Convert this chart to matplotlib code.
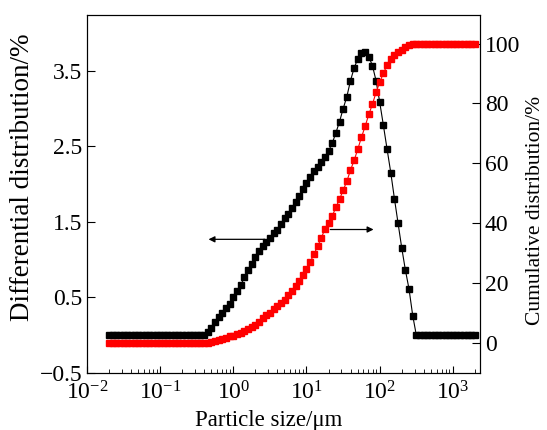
import matplotlib
matplotlib.use("Agg")
import matplotlib.pyplot as plt

plt.rcParams['font.family'] = ['Liberation Serif', 'DejaVu Serif']
plt.rcParams['mathtext.fontset'] = 'custom'
plt.rcParams['mathtext.rm'] = 'Liberation Serif'
plt.rcParams['mathtext.it'] = 'Liberation Serif:italic'

# size grid of the analyser: 20 channels per decade, 0.02 - 2000 um
mantissa = [2.00, 2.24, 2.52, 2.83, 3.17, 3.56, 3.99, 4.48, 5.02, 5.64,
            6.32, 7.10, 7.96, 8.93, 10.0, 11.2, 12.6, 14.2, 15.9, 17.8]
decades = [0.01, 0.1, 1, 10, 100]
sizes = [m * d for d in decades for m in mantissa] + [2000.0]

# differential distribution, %
diff = ([0.0] * 27 +
        [0.04, 0.09, 0.17, 0.24, 0.29, 0.36, 0.42, 0.50, 0.58, 0.66,
         0.77, 0.87, 0.94, 1.03, 1.11, 1.18, 1.23, 1.29, 1.35, 1.40,
         1.47, 1.55, 1.61, 1.68, 1.76, 1.84, 1.93, 2.01, 2.09, 2.17,
         2.23, 2.29, 2.36, 2.44, 2.54, 2.68, 2.83, 3.00, 3.16, 3.37,
         3.54, 3.66, 3.74, 3.75, 3.69, 3.57, 3.37, 3.09, 2.79, 2.47,
         2.15, 1.81, 1.49, 1.16, 0.87, 0.61, 0.26] +
        [0.0] * 17)

# cumulative distribution, %
cum = ([0.0] * 27 +
       [0.1, 0.3, 0.6, 1.0, 1.5, 1.8, 2.2, 2.5, 2.9, 3.4,
        4.0, 4.6, 5.3, 6.1, 7.0, 8.2, 9.2, 10.0, 11.2, 12.3,
        13.3, 14.5, 15.9, 17.4, 19.0, 20.8, 22.7, 24.7, 27.0, 29.6,
        32.3, 35.0, 38.0, 40.0, 42.3, 45.3, 48.0, 51.0, 54.0, 57.7,
        61.0, 64.7, 68.7, 72.3, 76.3, 79.7, 83.7, 87.0, 90.0, 92.7,
        94.7, 96.0, 97.0, 97.7, 98.7, 99.5, 99.8] +
       [100.0] * 17)

left_ticks = [-0.5, 0.5, 1.5, 2.5, 3.5]
right_ticks = [0, 20, 40, 60, 80, 100]

fig = plt.figure(figsize=(5.47, 4.30), dpi=100)
ax = fig.add_axes([0.159, 0.1326, 0.7185, 0.8324])
ax2 = ax.twinx()

ax.plot(sizes, diff, color='black', lw=0.8, marker='s', ms=4.2,
        mec='black', mfc='black')
ax2.plot(sizes, cum, color='red', lw=0.8, marker='s', ms=4.2,
         mec='red', mfc='red')

ax.set_xscale('log')
ax.set_xlim(0.01, 2350)
ax.set_ylim(-0.5, 4.24)
ax2.set_ylim(-10, 109.5)
ax.set_yticks(left_ticks)
ax.set_yticklabels(['\u22120.5', '0.5', '1.5', '2.5', '3.5'])
ax2.set_yticks(right_ticks)

ax.set_xlabel('Particle size/\u03bcm', fontsize=16.5)
ax.set_ylabel('Differential distribution/%', fontsize=19.5)
ax2.set_ylabel('Cumulative distribution/%', fontsize=15.5)
ax.xaxis.set_label_coords(0.463, -0.103)
ax.yaxis.set_label_coords(-0.133, 0.547)
ax2.yaxis.set_label_coords(1.117, 0.455)

ax.tick_params(axis='both', which='both', direction='in', labelsize=17)
ax.tick_params(axis='y', length=6, right=False)
ax.tick_params(axis='x', which='major', length=5, pad=6)
ax.tick_params(axis='x', which='minor', length=3)
ax2.tick_params(axis='y', direction='in', length=6, labelsize=17)

# arrows pointing to each curve's axis
ax.annotate('', xy=(0.42, 1.27), xytext=(2.94, 1.27),
            arrowprops=dict(arrowstyle='-|>', color='black', lw=0.9,
                            mutation_scale=9))
ax.annotate('', xy=(90, 1.40), xytext=(19.4, 1.40),
            arrowprops=dict(arrowstyle='-|>', color='black', lw=0.9,
                            mutation_scale=9))

fig.savefig('out.png', dpi=100)
